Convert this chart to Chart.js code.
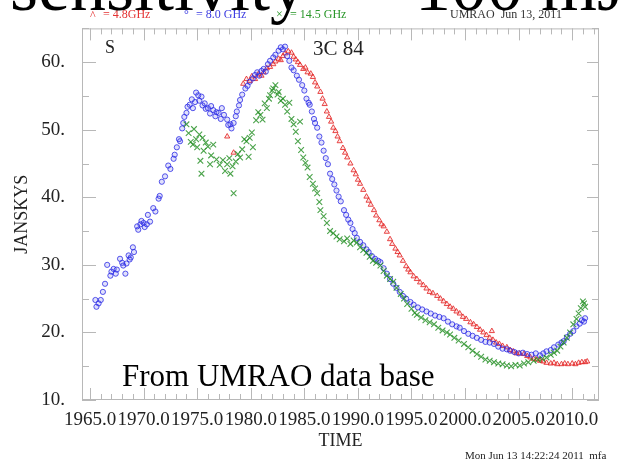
<!DOCTYPE html>
<html><head><meta charset="utf-8">
<script src="https://cdn.jsdelivr.net/npm/chart.js@4.4.0/dist/chart.umd.min.js"></script>
<style>html,body{margin:0;padding:0;background:#fff;overflow:hidden}canvas{display:block}</style>
</head><body>
<canvas id="c" width="625" height="464"></canvas>
<script>
const xTickValues = [1965,1970,1975,1980,1985,1990,1995,2000,2005,2010];
const xTickLabels = ['1965.0','1970.0','1975.0','1980.0','1985.0','1990.0','1995.0','2000.0','2005.0','2010.0'];
const yTickValues = [10,20,30,40,50,60];
const yTickLabels = ['10.','20.','30.','40.','50.','60.'];
const seriesNames = ['= 4.8GHz','= 8.0 GHz','= 14.5 GHz'];

// 4.8 GHz (red triangles)
const years48 = [1977.8,1978.4,1979.3,1979.6,1979.9,1980.1,1980.4,1980.7,1981.0,1981.2,1981.5,1981.8,1982.1,1982.3,1982.6,1982.8,1983.0,1983.2,1983.5,1983.8,1984.0,1984.2,1984.4,1984.6,1984.9,1985.1,1985.3,1985.6,1985.8,1986.0,1986.2,1986.5,1986.7,1986.9,1987.1,1987.3,1987.5,1987.7,1987.9,1988.1,1988.3,1988.6,1988.8,1989.0,1989.3,1989.6,1989.8,1990.0,1990.2,1990.5,1990.8,1991.0,1991.2,1991.5,1991.7,1992.0,1992.2,1992.4,1992.7,1993.0,1993.2,1993.5,1993.7,1993.9,1994.2,1994.5,1994.7,1994.9,1995.2,1995.5,1995.8,1996.1,1996.4,1996.7,1997.0,1997.4,1997.7,1998.0,1998.3,1998.6,1998.9,1999.2,1999.5,1999.8,2000.1,2000.5,2000.8,2001.1,2001.4,2001.7,2002.0,2002.3,2002.5,2002.6,2002.9,2003.2,2003.5,2003.9,2004.2,2004.5,2004.8,2005.1,2005.5,2005.8,2006.1,2006.4,2006.7,2007.0,2007.3,2007.6,2008.0,2008.3,2008.6,2009.0,2009.3,2009.6,2010.0,2010.3,2010.6,2010.9,2011.2,2011.4];
const flux48 = [49.0,46.6,56.8,57.5,57.2,57.9,57.5,58.2,58.0,58.5,59.1,59.3,59.7,60.1,60.5,60.3,60.9,61.3,61.6,61.4,60.8,60.4,60.0,59.6,59.0,59.2,58.5,58.3,57.8,57.0,56.4,55.6,54.6,53.8,52.7,51.9,51.2,50.3,49.8,49.0,48.3,47.3,46.6,45.9,45.0,44.0,43.4,42.6,42.0,41.1,40.1,39.5,38.9,38.1,37.3,36.6,36.0,35.7,34.9,33.8,33.1,32.4,31.9,31.4,30.6,29.8,29.3,28.9,28.3,27.9,27.4,27.0,26.5,26.0,25.8,25.4,25.0,24.6,24.2,23.8,23.5,23.1,22.8,22.3,22.0,21.5,21.2,20.8,20.4,20.0,19.6,19.2,20.2,18.9,18.5,18.3,18.0,17.8,17.4,17.2,16.9,16.9,16.8,16.5,16.3,16.1,16.0,15.8,15.7,15.5,15.4,15.5,15.3,15.3,15.4,15.3,15.4,15.3,15.5,15.6,15.6,15.7];

// 8.0 GHz (blue circles)
const years80 = [1965.5,1965.6,1965.8,1966.0,1966.2,1966.4,1966.6,1966.9,1967.0,1967.2,1967.4,1967.5,1967.8,1968.0,1968.1,1968.3,1968.4,1968.6,1968.7,1968.8,1969.0,1969.1,1969.4,1969.5,1969.7,1969.8,1970.0,1970.1,1970.3,1970.4,1970.6,1970.9,1971.1,1971.4,1971.5,1971.7,1972.0,1972.3,1972.5,1972.8,1972.9,1973.1,1973.3,1973.4,1973.6,1973.7,1973.8,1974.0,1974.1,1974.3,1974.5,1974.6,1974.8,1974.9,1975.1,1975.2,1975.4,1975.5,1975.7,1975.8,1976.0,1976.2,1976.3,1976.5,1976.7,1976.8,1977.0,1977.2,1977.3,1977.5,1977.8,1977.9,1978.1,1978.2,1978.4,1978.6,1978.7,1978.9,1979.0,1979.2,1979.5,1979.7,1979.9,1980.2,1980.4,1980.6,1980.8,1981.0,1981.2,1981.4,1981.6,1981.8,1982.1,1982.3,1982.6,1982.8,1983.0,1983.2,1983.4,1983.6,1983.8,1984.0,1984.3,1984.5,1984.8,1985.0,1985.2,1985.4,1985.5,1985.7,1985.9,1986.0,1986.2,1986.4,1986.6,1986.8,1987.0,1987.2,1987.4,1987.6,1987.8,1988.0,1988.2,1988.4,1988.7,1988.9,1989.1,1989.3,1989.5,1989.7,1989.9,1990.2,1990.5,1990.8,1991.0,1991.3,1991.6,1991.9,1992.1,1992.4,1992.7,1993.0,1993.3,1993.6,1993.9,1994.2,1994.5,1994.9,1995.2,1995.6,1996.0,1996.4,1996.8,1997.2,1997.6,1998.0,1998.4,1998.8,1999.2,1999.5,1999.9,2000.3,2000.7,2001.1,2001.5,2001.9,2002.3,2002.7,2003.1,2003.5,2003.9,2004.2,2004.6,2005.0,2005.4,2005.8,2006.2,2006.6,2007.0,2007.3,2007.6,2008.0,2008.3,2008.7,2009.0,2009.2,2009.5,2009.8,2010.1,2010.4,2010.7,2010.9,2011.1,2011.2];
const flux80 = [24.8,23.8,24.3,24.8,26.0,27.2,30.0,28.4,29.0,29.4,28.7,29.3,30.9,30.3,29.9,28.7,30.2,31.4,30.8,31.1,32.6,31.9,35.7,35.2,36.0,36.5,36.2,35.6,36.0,37.4,36.4,38.4,37.9,39.8,40.2,42.3,43.1,44.7,44.2,45.7,46.3,47.4,48.6,48.3,50.2,51.0,51.9,52.5,53.4,53.7,54.5,53.2,54.1,55.5,55.1,54.3,54.9,53.6,53.9,53.1,53.2,52.4,53.5,52.9,52.0,52.6,52.5,51.6,53.2,52.2,51.5,50.7,50.8,50.2,51.0,52.0,52.7,53.6,54.4,55.2,56.1,56.5,57.1,57.6,58.1,58.5,58.0,58.7,59.0,58.6,59.7,60.2,60.7,61.1,61.7,62.2,61.9,62.3,60.9,60.2,59.2,58.8,58.0,57.4,56.6,55.8,54.6,54.0,53.7,52.7,51.6,51.0,50.3,49.0,48.1,46.9,45.8,44.9,43.5,42.7,41.9,41.0,40.1,39.4,38.1,37.4,36.7,36.2,35.3,34.7,34.0,33.4,32.9,32.3,31.9,31.3,30.9,30.6,30.4,29.5,28.7,27.9,27.2,26.6,26.0,25.4,25.0,24.5,24.1,23.7,23.4,23.1,22.8,22.5,22.3,22.1,21.6,21.2,20.9,20.7,20.2,19.8,19.5,19.2,18.9,18.6,18.5,18.3,17.9,17.6,17.5,17.3,17.1,16.9,17.0,16.8,16.7,16.9,16.6,16.9,17.2,17.4,17.8,18.2,18.5,18.7,19.3,19.8,20.2,20.9,21.3,21.8,21.6,22.1];

// 14.5 GHz (green crosses)
const years145 = [1974.0,1974.2,1974.4,1974.6,1974.7,1974.9,1975.0,1975.2,1975.3,1975.4,1975.5,1975.6,1975.8,1976.0,1976.2,1976.3,1976.5,1976.8,1977.1,1977.4,1977.6,1977.8,1978.0,1978.1,1978.3,1978.4,1978.6,1978.8,1979.0,1979.2,1979.4,1979.6,1979.8,1979.9,1980.1,1980.2,1980.5,1980.7,1980.9,1981.1,1981.3,1981.5,1981.7,1981.8,1982.0,1982.1,1982.3,1982.5,1982.6,1982.8,1983.0,1983.2,1983.4,1983.6,1983.8,1984.0,1984.2,1984.4,1984.6,1984.7,1984.9,1985.1,1985.3,1985.5,1985.8,1986.0,1986.2,1986.4,1986.5,1986.8,1987.1,1987.4,1987.7,1988.0,1988.3,1988.7,1989.0,1989.3,1989.6,1989.9,1990.2,1990.5,1990.8,1991.1,1991.4,1991.7,1992.1,1992.4,1992.7,1993.0,1993.3,1993.6,1994.0,1994.3,1994.6,1995.0,1995.3,1995.5,1995.9,1996.3,1996.7,1997.1,1997.5,1997.9,1998.3,1998.6,1999.0,1999.4,1999.9,2000.3,2000.7,2001.1,2001.5,2001.9,2002.3,2002.7,2003.1,2003.5,2003.9,2004.3,2004.7,2005.1,2005.5,2005.9,2006.4,2006.8,2007.2,2007.6,2008.0,2008.3,2008.6,2008.9,2009.2,2009.5,2009.8,2010.1,2010.4,2010.6,2010.8,2011.0,2011.1,2011.2];
const flux145 = [50.8,49.5,48.2,47.8,50.1,48.6,47.4,49.3,45.4,43.5,48.8,46.9,48.1,47.5,44.9,46.2,47.8,45.6,44.8,45.5,43.9,44.9,45.8,43.5,44.6,40.6,45.3,46.4,45.9,47.1,48.6,48.3,46.0,48.8,49.6,47.4,51.4,52.6,52.2,51.5,53.9,53.2,54.6,55.1,55.8,56.1,56.6,55.2,55.6,54.3,54.6,53.7,52.7,54.0,51.6,50.8,49.7,48.3,51.2,47.0,45.9,45.1,44.4,43.0,42.0,41.3,40.6,39.3,38.1,37.2,36.2,35.0,34.7,34.2,33.8,33.5,33.9,33.1,33.6,33.3,32.6,32.2,31.8,31.2,30.6,30.3,29.9,29.1,28.4,27.9,27.5,26.6,25.7,25.0,24.2,23.5,22.9,22.6,22.2,21.8,21.5,21.2,20.7,20.3,20.0,19.7,19.2,18.8,18.3,17.8,17.3,16.8,16.4,16.0,15.8,15.6,15.4,15.3,15.1,15.0,15.2,15.1,15.4,15.6,15.8,16.0,16.1,16.3,16.7,17.0,17.3,17.9,18.5,19.2,20.0,21.2,22.0,22.8,23.6,24.6,24.3,23.8];

const SERIF = '"Liberation Serif", "DejaVu Serif", serif';
const RED = 'rgba(228,40,40,0.85)';
const BLUE = 'rgba(45,45,230,0.8)';
const GREEN = 'rgba(30,140,30,0.8)';

const toPts = (xs, ys) => xs.map((x, i) => ({x: x, y: ys[i]}));

const framePlugin = {
  id: 'frame',
  beforeDatasetsDraw(chart) {
    const {ctx, chartArea: a, scales: {x, y}} = chart;
    ctx.save();
    ctx.strokeStyle = '#b8b8b8';
    ctx.lineWidth = 1;
    ctx.strokeRect(a.left + 0.5, a.top + 0.5, a.right - a.left - 1, a.bottom - a.top - 1);
    ctx.beginPath();
    for (let yr = Math.ceil(x.min); yr <= x.max; yr++) {
      const px = Math.round(x.getPixelForValue(yr)) + 0.5;
      const len = yr % 5 === 0 ? 12 : 6;
      ctx.moveTo(px, a.bottom); ctx.lineTo(px, a.bottom - len);
      ctx.moveTo(px, a.top); ctx.lineTo(px, a.top + len);
    }
    for (let v = 10; v <= y.max; v += 5) {
      const py = Math.round(y.getPixelForValue(v)) + 0.5;
      const lenL = v % 10 === 0 ? 14 : 7;
      const lenR = v % 10 === 0 ? 12 : 7;
      ctx.moveTo(a.left, py); ctx.lineTo(a.left + lenL, py);
      ctx.moveTo(a.right, py); ctx.lineTo(a.right - lenR, py);
    }
    ctx.stroke();
    ctx.restore();
  }
};

const textPlugin = {
  id: 'texts',
  afterDraw(chart) {
    const ctx = chart.ctx;
    ctx.save();
    ctx.textBaseline = 'alphabetic';
    // legend line
    ctx.font = '12px ' + SERIF;
    ctx.textAlign = 'left';
    ctx.fillStyle = 'rgb(228,50,50)';
    ctx.fillText('^', 90, 19);
    ctx.fillText(seriesNames[0], 103, 18);
    ctx.fillStyle = 'rgb(60,60,225)';
    ctx.fillText('\u00B0', 184, 18);
    ctx.fillText(seriesNames[1], 196, 18);
    ctx.fillStyle = 'rgb(40,150,40)';
    ctx.fillText('\u00D7', 276, 18);
    ctx.fillText(seriesNames[2], 290, 18);
    ctx.fillStyle = '#333';
    ctx.fillText('UMRAO  Jun 13, 2011', 450, 18);
    // big overlaid slide text (mostly above the top edge)
    ctx.fillStyle = '#000';
    ctx.font = '72px ' + SERIF;
    ctx.fillText('sensitivity', 10, 10);
    ctx.fillText('~', 345, 10);
    ctx.fillText('100 mJy', 415, 10);
    // inner labels
    ctx.fillStyle = '#222';
    ctx.font = '18px ' + SERIF;
    ctx.fillText('S', 105, 53);
    ctx.font = '21px ' + SERIF;
    ctx.fillText('3C 84', 313, 55);
    ctx.fillStyle = '#000';
    ctx.font = '31px ' + SERIF;
    ctx.fillText('From UMRAO data base', 122, 386);
    ctx.fillStyle = '#222';
    ctx.font = '11px ' + SERIF;
    ctx.fillText('Mon Jun 13 14:22:24 2011  mfa', 465, 459);
    ctx.restore();
  }
};

new Chart(document.getElementById('c'), {
  type: 'scatter',
  data: {
    datasets: [
      {label: seriesNames[0], order: 2, data: toPts(years48, flux48), pointStyle: 'triangle', pointRadius: 3, borderColor: RED, backgroundColor: 'rgba(228,40,40,0.12)', borderWidth: 1},
      {label: seriesNames[1], order: 1, data: toPts(years80, flux80), pointStyle: 'circle', pointRadius: 2.6, borderColor: BLUE, backgroundColor: 'rgba(45,45,230,0.15)', borderWidth: 1},
      {label: seriesNames[2], order: 0, data: toPts(years145, flux145), pointStyle: 'crossRot', pointRadius: 4, borderColor: GREEN, backgroundColor: GREEN, borderWidth: 1.1}
    ]
  },
  options: {
    responsive: false,
    animation: false,
    devicePixelRatio: 1,
    layout: {padding: {left: 0, right: 26, top: 23, bottom: 0}},
    plugins: {legend: {display: false}, tooltip: {enabled: false}},
    scales: {
      x: {
        type: 'linear', min: 1964.25, max: 2012.5,
        afterBuildTicks: s => { s.ticks = xTickValues.map(v => ({value: v})); },
        afterFit: s => { s.height = 64; },
        grid: {display: false, drawTicks: false},
        border: {display: false},
        ticks: {autoSkip: false, maxRotation: 0, minRotation: 0, padding: 9, color: '#222',
          font: {family: SERIF, size: 19},
          callback: (v, i) => xTickLabels[i]},
        title: {display: true, text: 'TIME', color: '#222', font: {family: SERIF, size: 18}, padding: {top: 0, bottom: 12}}
      },
      y: {
        type: 'linear', min: 10, max: 65,
        afterBuildTicks: s => { s.ticks = yTickValues.map(v => ({value: v})); },
        afterFit: s => { s.width = 82; },
        grid: {display: false, drawTicks: false},
        border: {display: false},
        ticks: {autoSkip: false, padding: 17, color: '#222',
          font: {family: SERIF, size: 19},
          callback: (v, i) => yTickLabels[i]},
        title: {display: true, text: 'JANSKYS', color: '#222', font: {family: SERIF, size: 18}, padding: {top: 11, bottom: 0}}
      }
    }
  },
  plugins: [framePlugin, textPlugin]
});
</script>
</body></html>
